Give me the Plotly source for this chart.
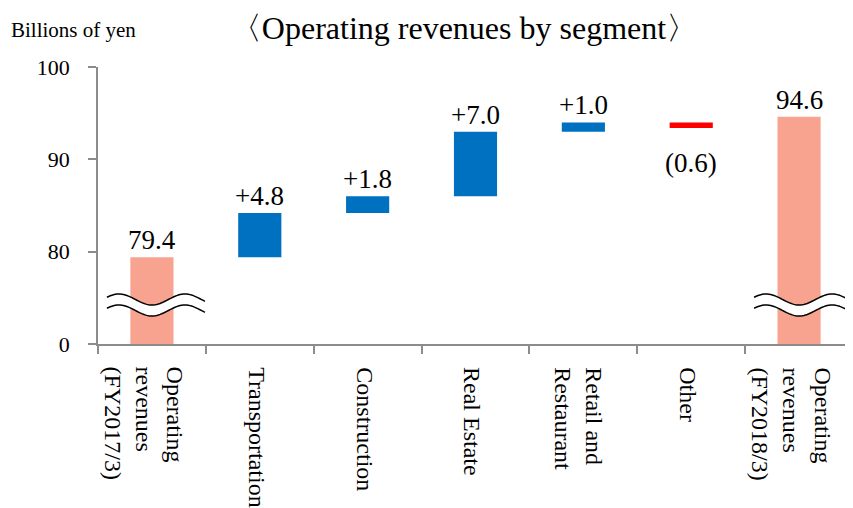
import numpy as np
import plotly.graph_objects as go

# ---------------- data ----------------
categories = [
    "Operating<br>revenues<br>(FY2017/3)",
    "Transportation",
    "Construction",
    "Real Estate",
    "Retail and<br>Restaurant",
    "Other",
    "Operating<br>revenues<br>(FY2018/3)",
]
start_total = 79.4
segment_changes = [4.8, 1.8, 7.0, 1.0, -0.6]
end_total = 94.6

axis_floor = 70          # displayed as "0" (broken axis)
tick_values = [70, 80, 90, 100]
tick_labels = ["0", "80", "90", "100"]

SALMON = "#F7A38F"
BLUE = "#0070C0"
RED = "#FF0000"
FONT = "Liberation Serif"

# the page body adds an 8px offset; compensate so the chart fills the 853x508 window
W, H = 845, 500
ML, MT, MB, MR = 90, 59, 164, 0

# --------------- derived bars ---------------
bases, heights, colors, labels, label_pos = [], [], [], [], []
bases.append(axis_floor); heights.append(start_total - axis_floor)
colors.append(SALMON); labels.append(f"{start_total:.1f}"); label_pos.append(("top", start_total))
level = start_total
for ch in segment_changes:
    if ch >= 0:
        bases.append(level); heights.append(ch); colors.append(BLUE)
        labels.append(f"+{ch:.1f}"); label_pos.append(("top", level + ch))
    else:
        bases.append(level + ch); heights.append(-ch); colors.append(RED)
        labels.append(f"({-ch:.1f})"); label_pos.append(("bottom", level + ch))
    level += ch
bases.append(axis_floor); heights.append(end_total - axis_floor)
colors.append(SALMON); labels.append(f"{end_total:.1f}"); label_pos.append(("top", end_total))

fig = go.Figure()
fig.add_trace(go.Bar(
    x=categories, y=heights, base=bases, marker=dict(color=colors, line=dict(width=0)),
    width=0.4, hoverinfo="skip",
))

annotations = []
for cat, txt, (pos, yv) in zip(categories, labels, label_pos):
    if pos == "top":
        annotations.append(dict(x=cat, y=yv, text=txt, showarrow=False, yanchor="bottom",
                                yshift=0, font=dict(family=FONT, size=27, color="black")))
    else:
        annotations.append(dict(x=cat, y=yv, text=txt, showarrow=False, yanchor="top",
                                yshift=-18, font=dict(family=FONT, size=27, color="black")))

# category labels, drawn rotated below the axis
for cat in categories:
    nlines = cat.count("<br>") + 1
    annotations.append(dict(x=cat, xref="x", y=0, yref="paper", text=cat, showarrow=False,
                            textangle=90, xanchor="center", yanchor="top", align="left",
                            xshift=-3 - 2 * (nlines - 1), yshift=-21,
                            font=dict(family=FONT, size=24, color="black")))

plot_w = W - ML - MR
plot_h = H - MT - MB
annotations.append(dict(xref="paper", yref="paper", x=(1 - ML) / plot_w, y=(plot_h + MT - 22) / plot_h,
                        xanchor="left", yanchor="middle", text="Billions of yen", showarrow=False,
                        font=dict(family=FONT, size=21, color="black")))

# ---------------- axis break marks ----------------
px_per_cat = plot_w / 7.0
px_per_unit = plot_h / 30.0
shapes = []
for idx in (0, len(categories) - 1):
    xs_px = np.linspace(-45, 53, 60)
    top_px = 232.5 + 5.5 * np.cos(2 * np.pi * xs_px / 66.0)   # pixels below plot top
    bot_px = top_px + 11
    xs = idx + xs_px / px_per_cat
    top_y = 100 - top_px / px_per_unit
    bot_y = 100 - bot_px / px_per_unit
    fill = "M " + " L ".join(f"{x:.4f},{y:.4f}" for x, y in zip(xs, top_y))
    fill += " L " + " L ".join(f"{x:.4f},{y:.4f}" for x, y in zip(xs[::-1], bot_y[::-1])) + " Z"
    shapes.append(dict(type="path", path=fill, xref="x", yref="y", fillcolor="white",
                       line=dict(width=0), layer="above"))
    for arr in (top_y, bot_y):
        p = "M " + " L ".join(f"{x:.4f},{y:.4f}" for x, y in zip(xs, arr))
        shapes.append(dict(type="path", path=p, xref="x", yref="y",
                           line=dict(color="black", width=1.5), layer="above"))

fig.update_layout(
    width=W, height=H,
    margin=dict(l=ML, r=MR, t=MT, b=MB),
    plot_bgcolor="white", paper_bgcolor="white",
    showlegend=False,
    title=dict(text="〈Operating revenues by segment〉", x=456 / W, xanchor="center",
               y=1 - 20 / H, yanchor="middle", xref="container", yref="container",
               font=dict(family=FONT, size=32, color="black")),
    xaxis=dict(type="category", tickson="boundaries", ticks="outside", ticklen=8,
               tickcolor="#8c8c8c", tickwidth=1.5, showline=True, linecolor="#8c8c8c",
               linewidth=1.5, showgrid=False, showticklabels=False, range=[-0.5, 6.5]),
    yaxis=dict(range=[axis_floor, 100], tickvals=tick_values, ticktext=tick_labels,
               ticks="outside", ticklen=8, tickcolor="#8c8c8c", tickwidth=1.5,
               showline=True, linecolor="#8c8c8c", linewidth=1.5, showgrid=False,
               zeroline=False, ticklabelstandoff=14,
               tickfont=dict(family=FONT, size=22, color="black")),
    annotations=annotations,
    shapes=shapes,
    bargap=0.6,
)

fig.write_html("out.html")
